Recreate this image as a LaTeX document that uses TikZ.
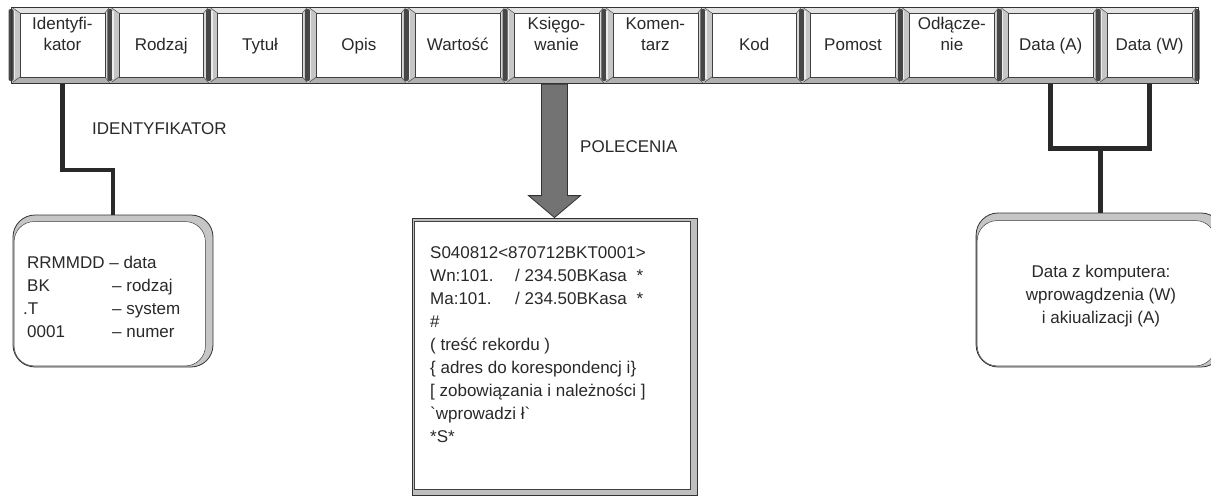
\documentclass[tikz,border=0pt]{standalone}
\usepackage{fontspec}
\setmainfont{Liberation Sans}
\usetikzlibrary{calc}
\definecolor{ink}{gray}{0.16}
\begin{document}
\begin{tikzpicture}[x=1pt,y=-1pt,
  txt/.style={font=\fontsize{17}{21}\selectfont, text=ink, inner sep=0pt},
  big/.style={font=\fontsize{17}{23}\selectfont, text=ink, inner sep=0pt},
  hdr/.style={txt, minimum width=84pt, minimum height=76pt, align=center, text height=12pt, text depth=4pt},
  conn/.style={draw=ink, line width=4.2pt},
  frame/.style={fill=gray!45, draw=black!80, line width=0.8pt},
  innerw/.style={fill=white, draw=black!75, line width=0.5pt}]
\useasboundingbox (0,0) rectangle (1211,498);
\fill[white] (0,0) rectangle (1211,498);

% ---------- header row ----------
\foreach \lab [count=\i from 0] in {{Identyfi-\\kator},Rodzaj,Tytuł,Opis,Wartość,{Księgo-\\wanie},{Komen-\\tarz},Kod,Pomost,{Odłącze-\\nie},Data (A),Data (W)}{
  \pgfmathsetmacro\xa{11+\i*98.83}
  \pgfmathsetmacro\xb{\xa+98.83}
  \fill[gray!45] (\xa,7) rectangle (\xb,83);
  \fill[gray!22] (\xa,7) -- (\xb,7) -- (\xb-5,13) -- (\xa+9,13) -- cycle;
  \fill[gray!62] (\xa,83) -- (\xb,83) -- (\xb-5,77) -- (\xa+9,77) -- cycle;
  \fill[gray!30] (\xb,7) -- (\xb-5,13) -- (\xb-5,77) -- (\xb,83) -- cycle;
  \fill[black!72,rounded corners=2pt] (\xa-2.5,9) rectangle (\xa+2.5,81);
  \fill[gray!15] (\xa+2.5,11) rectangle (\xa+4,79);
  \filldraw[innerw] (\xa+9,13) rectangle (\xb-5,77);
  \draw[black!70,line width=0.5pt] (\xa+2,8)--(\xa+9,13) (\xb,7)--(\xb-5,13)
       (\xa+2,82)--(\xa+9,77) (\xb,83)--(\xb-5,77);
  \node[hdr] (h\i) at ({\xa+51.4},46) {\lab};
}
\fill[black!72,rounded corners=2pt] (1194.5,9) rectangle (1199.5,81);
\draw[black!80,line width=0.8pt] (11,7) rectangle (1198,83);

% ---------- identifier box ----------
\node[frame, rounded corners=22pt, minimum width=200pt, minimum height=152pt, inner sep=0pt] (idbox) at (113,291) {};
\filldraw[innerw, rounded corners=20pt] ([shift={(1.5,7)}]idbox.north west) rectangle ([shift={(-8,-1.5)}]idbox.south east);
\node[txt, font=\fontsize{17}{23}\selectfont, anchor=base west] (idtext) at (27,268)
  {\begin{tabular}[t]{@{}p{85pt}@{}l@{}}\multicolumn{2}{@{}l@{}}{RRMMDD – data}\\ BK & – rodzaj\\ \hspace{-4pt}.T & – system\\ 0001 & – numer\end{tabular}};

% ---------- command box ----------
\node[frame, fill=gray!50, minimum width=285pt, minimum height=277pt, inner sep=0pt] (cmd) at (554.5,356.5) {};
\filldraw[innerw] ([shift={(3,4)}]cmd.north west) rectangle ([shift={(-7,-6)}]cmd.south east);
\node[big, anchor=base west] (cmdtext) at (430,258)
  {\begin{tabular}[t]{@{}l@{}}S040812<870712BKT0001>\\
   \makebox[85pt][l]{Wn:101.}/ 234.50BKasa\hspace{10pt}*\\
   \makebox[85pt][l]{Ma:101.}/ 234.50BKasa\hspace{10pt}*\\
   \#\\
   ( treść rekordu )\\
   \{ adres do korespondencj i\}\\
   {[} zobowiązania i należności ]\\
   \textasciigrave wprowadzi ł\textasciigrave\\
   {*}S*\end{tabular}};

% ---------- date box ----------
\node[frame, rounded corners=22pt, minimum width=247pt, minimum height=154pt, inner sep=0pt] (dbox) at (1099.6,290) {};
\filldraw[innerw, rounded corners=20pt] ([shift={(1.5,8)}]dbox.north west) rectangle ([shift={(-8,-1.5)}]dbox.south east);
\node[big, anchor=base] (dtext) at (1101,277)
  {\begin{tabular}[t]{@{}c@{}}Data z komputera:\\ wprowagdzenia (W)\\ i akiualizacji (A)\end{tabular}};

% ---------- labels ----------
\node[big, anchor=base west] (lid) at (92,134) {IDENTYFIKATOR};
\node[big, anchor=base west] (lpol) at (580,152) {POLECENIA};

% ---------- connectors ----------
\draw[conn] (h0.south) -- ++(0,86) -| (idbox.north);

\coordinate (at) at (h5.south -| cmd.north);
\filldraw[fill=black!55, draw=black!80, line width=0.8pt]
  ($(at)+(-13,0)$) -- ($(cmd.north)+(-13,-22)$) -- ($(cmd.north)+(-26,-22)$) -- (cmd.north)
  -- ($(cmd.north)+(26,-22)$) -- ($(cmd.north)+(13,-22)$) -- ($(at)+(13,0)$) -- cycle;

\draw[conn, line width=5pt] (h10.south) -- ++(0,64) -| (h11.south);
\coordinate (mid) at ($(h10.south)!.5!(h11.south)+(0,64)$);
\draw[conn, line width=5pt] (mid) -- (mid |- dbox.north);
\end{tikzpicture}
\end{document}
